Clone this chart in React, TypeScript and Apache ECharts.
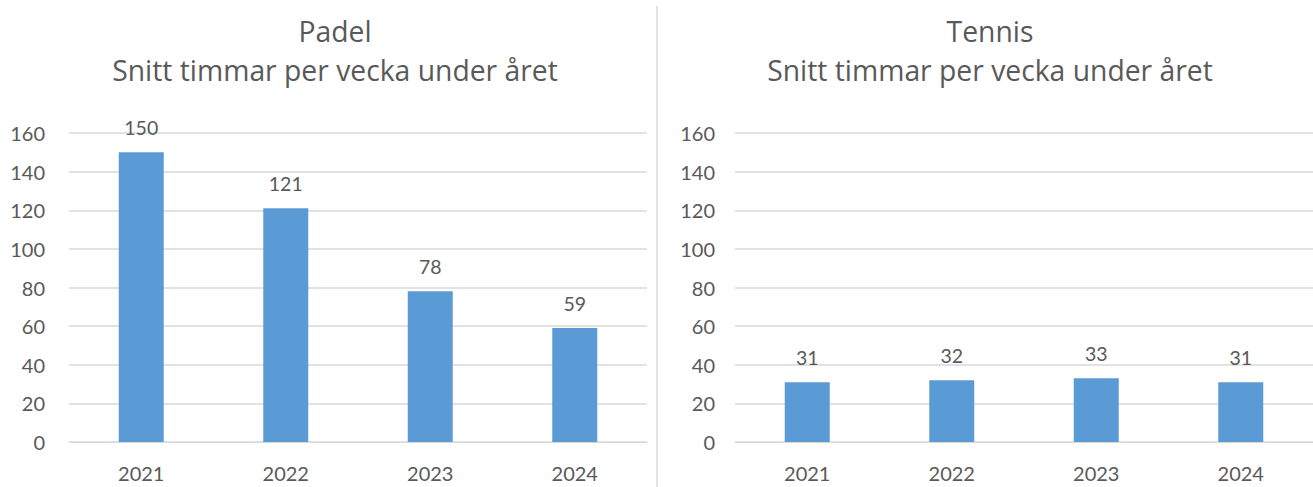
import React, { useEffect, useRef } from "react";
import * as echarts from "echarts";

const years = ["2021", "2022", "2023", "2024"];
const padel = [150, 121, 78, 59];
const tennis = [31, 32, 33, 31];
const titles = ["Padel", "Tennis"];
const subtitle = "Snitt timmar per vecka under året";

const FONT = "Lato, 'Open Sans', sans-serif";
const TFONT = "'Open Sans', Lato, sans-serif";
const TEXT = "#595959";
const GRID = "#D9D9D9";
const BAR = "#5B9BD5";

export default function App() {
  const ref = useRef<HTMLDivElement>(null);
  useEffect(() => {
    if (!ref.current) return;
    const chart = echarts.init(ref.current, undefined, { renderer: "svg" });
    const grids = [
      { left: 69, width: 578, top: 133, height: 309 },
      { left: 735, width: 578, top: 133, height: 309 },
    ];
    const centers = [330, 985];
    const mkX = (i: number) => ({
      type: "category",
      gridIndex: i,
      data: years,
      axisLine: { lineStyle: { color: GRID } },
      axisTick: { show: false },
      axisLabel: { color: TEXT, fontFamily: FONT, fontSize: 20, margin: 21 },
    });
    const mkY = (i: number) => ({
      type: "value",
      gridIndex: i,
      min: 0,
      max: 160,
      interval: 20,
      axisLine: { show: false },
      axisTick: { show: false },
      splitLine: { lineStyle: { color: GRID, width: 1.5 } },
      axisLabel: { color: TEXT, fontFamily: FONT, fontSize: 20, margin: i === 0 ? 24 : 20 },
    });
    const mkSeries = (i: number, data: number[]) => ({
      type: "bar",
      xAxisIndex: i,
      yAxisIndex: i,
      data,
      barWidth: 45,
      itemStyle: { color: BAR },
      label: {
        show: true,
        position: "top",
        distance: 15,
        color: TEXT,
        fontFamily: FONT,
        fontSize: 19.5,
      },
    });
    chart.setOption({
      animation: false,
      backgroundColor: "#ffffff",
      title: [0, 1].map((i) => ({
        text: titles[i],
        subtext: subtitle,
        left: centers[i],
        top: 12,
        textAlign: "center",
        itemGap: 11,
        textStyle: { color: TEXT, fontFamily: TFONT, fontSize: 28.3, fontWeight: "normal" },
        subtextStyle: { color: TEXT, fontFamily: TFONT, fontSize: 28.3 },
      })),
      grid: grids,
      xAxis: [mkX(0), mkX(1)],
      yAxis: [mkY(0), mkY(1)],
      series: [mkSeries(0, padel), mkSeries(1, tennis)],
      graphic: [
        {
          type: "line",
          shape: { x1: 657, y1: 6, x2: 657, y2: 487 },
          style: { stroke: GRID, lineWidth: 1.5 },
        },
      ],
    });
    return () => chart.dispose();
  }, []);
  return (
    <div
      ref={ref}
      style={{ position: "absolute", left: 0, top: 0, width: 1313, height: 487 }}
    />
  );
}
